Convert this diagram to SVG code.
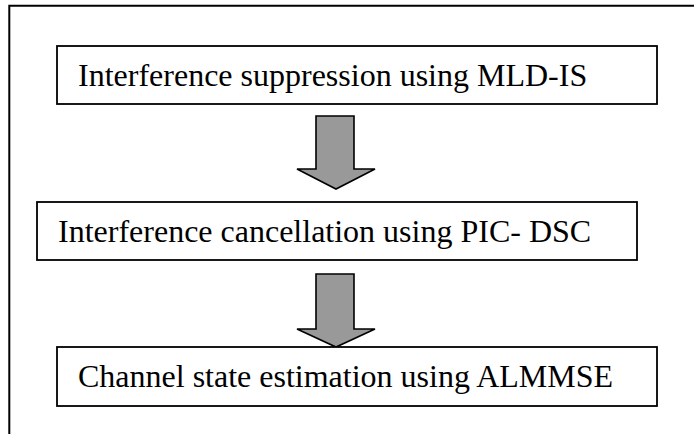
<svg xmlns="http://www.w3.org/2000/svg" width="694" height="434" viewBox="0 0 694 434">
<style>
.box{fill:#fff;stroke:#000;stroke-width:1.8}
.lbl{font-family:"Liberation Serif","Times New Roman",serif;font-size:32px;fill:#000}
.arr{fill:#999;stroke:#000;stroke-width:1.6;stroke-linejoin:miter}
.frame{fill:none;stroke:#000;stroke-width:2}
</style>
<rect width="694" height="434" fill="#fff"/>
<path class="frame" d="M9.3,434 V5.7 H694"/>
<g id="connectors">
<path class="arr" d="M316,116 H354 V169 H375 L336,189 L297,169 H316 Z"/>
<path class="arr" d="M316,274 H354 V329 H375 L336,347 L297,329 H316 Z"/>
</g>
<g id="node1">
<rect class="box" x="57" y="46" width="600" height="58"/>
<text class="lbl" x="78" y="86">Interference suppression using MLD-IS</text>
</g>
<g id="node2">
<rect class="box" x="37" y="202" width="600" height="58"/>
<text class="lbl" x="58" y="242">Interference cancellation using PIC- DSC</text>
</g>
<g id="node3">
<rect class="box" x="57" y="347" width="600" height="59"/>
<text class="lbl" x="78" y="387">Channel state estimation using ALMMSE</text>
</g>
</svg>
